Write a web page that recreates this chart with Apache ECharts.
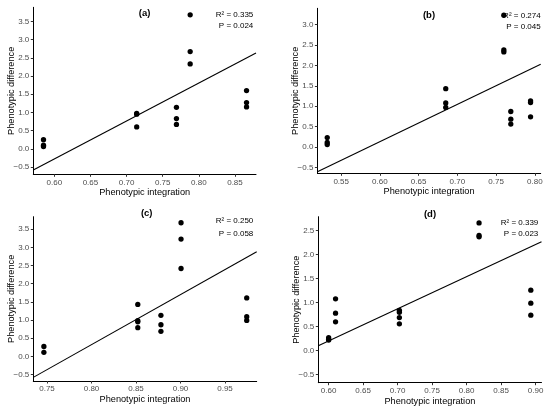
<!DOCTYPE html>
<html>
<head>
<meta charset="utf-8">
<script src="https://cdn.jsdelivr.net/npm/echarts@6/dist/echarts.min.js"></script>
<style>
html,body{margin:0;padding:0;background:#fff}
#main{width:550px;height:409px}
</style>
</head>
<body>
<div id="main"></div>
<script>
// panel (a)
var xA=[0.585,0.585,0.585,0.714,0.714,0.714,0.769,0.769,0.769,0.788,0.788,0.788,0.866,0.866,0.866];
var yA=[0.25,0.10,0.06,0.97,0.95,0.60,1.14,0.83,0.67,3.68,2.67,2.33,1.60,1.27,1.15];
var fitA=[[0.5709,-0.58],[0.8791,2.63]];
var xTicksA=[0.60,0.65,0.70,0.75,0.80,0.85];
var yTicksA=[-0.5,0,0.5,1,1.5,2,2.5,3,3.5];
// panel (b)
var xB=[0.532,0.532,0.532,0.685,0.685,0.685,0.760,0.760,0.760,0.769,0.769,0.769,0.7945,0.7945,0.7945];
var yB=[0.23,0.11,0.06,1.43,1.08,0.97,3.23,2.38,2.33,0.87,0.68,0.56,1.13,1.09,0.74];
var fitB=[[0.5193,-0.61],[0.8076,2.03]];
var xTicksB=[0.55,0.60,0.65,0.70,0.75,0.80];
var yTicksB=[-0.5,0,0.5,1,1.5,2,2.5,3];
// panel (c)
var xC=[0.7465,0.7465,0.852,0.852,0.852,0.852,0.878,0.878,0.878,0.9006,0.9006,0.9006,0.9744,0.9744,0.9744];
var yC=[0.27,0.11,1.43,0.98,0.95,0.79,1.13,0.87,0.69,3.68,3.23,2.42,1.61,1.09,0.99];
var fitC=[[0.7346,-0.58],[0.9856,2.88]];
var xTicksC=[0.75,0.80,0.85,0.90,0.95];
var yTicksC=[-0.5,0,0.5,1,1.5,2,2.5,3,3.5];
// panel (d)
var xD=[0.600,0.600,0.600,0.610,0.610,0.610,0.7025,0.7025,0.7025,0.7025,0.818,0.818,0.818,0.893,0.893,0.893];
var yD=[0.27,0.24,0.22,1.08,0.78,0.60,0.84,0.80,0.69,0.56,2.66,2.40,2.37,1.26,0.99,0.74];
var fitD=[[0.585,0.10],[0.9085,2.27]];
var xTicksD=[0.60,0.65,0.70,0.75,0.80,0.85,0.90];
var yTicksD=[-0.5,0,0.5,1,1.5,2,2.5];

var panelLabels=['(a)','(b)','(c)','(d)'];
var r2Labels=['R\u00b2 = 0.335','R\u00b2 = 0.274','R\u00b2 = 0.250','R\u00b2 = 0.339'];
var pLabels=['P = 0.024','P = 0.045','P = 0.058','P = 0.023'];

var FONT='"Liberation Sans", Arial, sans-serif';
var panels=[
    {x:xA,y:yA,fit:fitA,xt:xTicksA,yt:yTicksA,xr:[0.5709,0.8791],yr:[-0.70,3.886],
        grid:{left:33.3,top:7.3,width:222.7,height:167},lab:[144.6,13.3],txt:[253.3,14.7,25.7]},
    {x:xB,y:yB,fit:fitB,xt:xTicksB,yt:yTicksB,xr:[0.5193,0.8076],yr:[-0.646,3.40],
        grid:{left:317.4,top:8.3,width:223.3,height:165},lab:[429,15],txt:[540.7,15.7,26.7]},
    {x:xC,y:yC,fit:fitC,xt:xTicksC,yt:yTicksC,xr:[0.7346,0.9856],yr:[-0.68,3.847],
        grid:{left:33.3,top:216.7,width:223.4,height:164.3},lab:[146.7,213],txt:[253.3,221,233.3]},
    {x:xD,y:yD,fit:fitD,xt:xTicksD,yt:yTicksD,xr:[0.585,0.9085],yr:[-0.667,2.79],
        grid:{left:318.3,top:216.7,width:223.2,height:166},lab:[430,214.3],txt:[538.3,222.3,233.3]}
];

function fmtY(v){
    var s=(+v).toFixed(1);
    return s.charAt(0)=='-'?'\u2212'+s.substr(1):s;
}
function fmtX(v){return (+v).toFixed(2);}

var grids=[],xAxes=[],yAxes=[],series=[],texts=[];
for(var i=0;i<panels.length;i++){
    var p=panels[i],pts=[];
    for(var j=0;j<p.x.length;j++){pts.push([p.x[j],p.y[j]]);}
    grids.push(p.grid);
    xAxes.push({type:'value',gridIndex:i,min:p.xr[0],max:p.xr[1],
        name:'Phenotypic integration',nameLocation:'middle',nameGap:14,nameMoveOverlap:false,
        nameTextStyle:{color:'#000',fontSize:9.2,fontFamily:FONT},
        axisLine:{onZero:false,lineStyle:{color:'#000',width:1}},
        axisTick:{customValues:p.xt,length:2.5,lineStyle:{color:'#333'}},
        axisLabel:{customValues:p.xt,formatter:fmtX,margin:4,color:'#4d4d4d',fontSize:8,fontFamily:FONT},
        splitLine:{show:false}});
    yAxes.push({type:'value',gridIndex:i,min:p.yr[0],max:p.yr[1],
        name:'Phenotypic difference',nameLocation:'middle',nameGap:17,nameMoveOverlap:false,
        nameTextStyle:{color:'#000',fontSize:9.2,fontFamily:FONT},
        axisLine:{show:true,onZero:false,lineStyle:{color:'#000',width:1}},
        axisTick:{show:true,customValues:p.yt,length:2.5,lineStyle:{color:'#333'}},
        axisLabel:{customValues:p.yt,formatter:fmtY,margin:4,color:'#4d4d4d',fontSize:8,fontFamily:FONT},
        splitLine:{show:false}});
    series.push({type:'line',xAxisIndex:i,yAxisIndex:i,data:p.fit,symbol:'none',silent:true,
        lineStyle:{color:'#000',width:1.1},z:2});
    series.push({type:'scatter',xAxisIndex:i,yAxisIndex:i,data:pts,symbolSize:5.3,
        itemStyle:{color:'#000',opacity:1},z:3});
    texts.push({type:'text',x:p.lab[0],y:p.lab[1],style:{text:panelLabels[i],fill:'#000',
        font:'bold 9.5px '+FONT,textAlign:'center',textVerticalAlign:'middle'}});
    texts.push({type:'text',x:p.txt[0],y:p.txt[1],style:{text:r2Labels[i],fill:'#000',
        font:'8px '+FONT,textAlign:'right',textVerticalAlign:'middle'}});
    texts.push({type:'text',x:p.txt[0],y:p.txt[2],style:{text:pLabels[i],fill:'#000',
        font:'8px '+FONT,textAlign:'right',textVerticalAlign:'middle'}});
}

var chart=echarts.init(document.getElementById('main'));
chart.setOption({
    backgroundColor:'#fff',
    animation:false,
    grid:grids,
    xAxis:xAxes,
    yAxis:yAxes,
    series:series,
    graphic:texts
});
</script>
</body>
</html>
